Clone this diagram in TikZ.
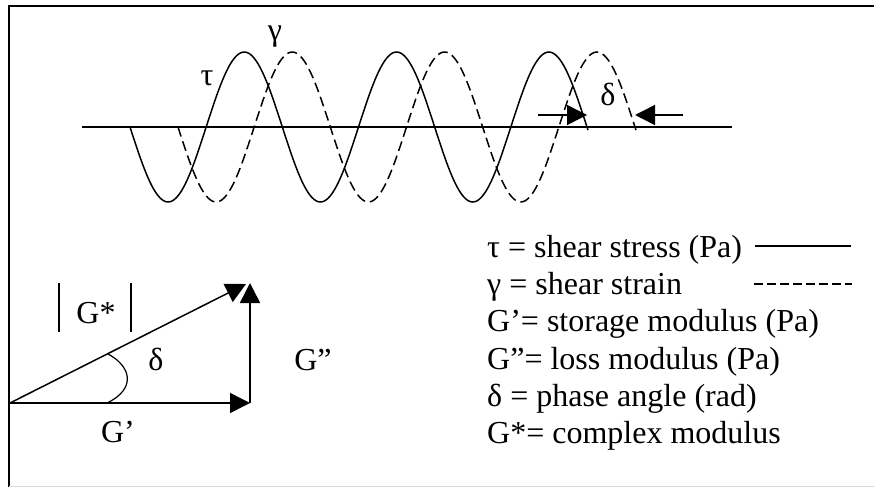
\documentclass[tikz,border=0pt]{standalone}
\usepackage{fontspec}
\setmainfont{Liberation Serif}
\usetikzlibrary{arrows.meta}
\begin{document}
\begin{tikzpicture}[x=1pt,y=-1pt,
  lbl/.style={inner sep=0pt, font=\fontsize{32}{38}\selectfont},
  leg/.style={lbl, anchor=base west},
  wave/.style={line width=1.5pt},
  dwave/.style={wave, dash pattern=on 10pt off 5pt},
  bigarrow/.style={-{Triangle[length=20pt,width=20pt]}, line width=1.5pt},
]
\useasboundingbox (0,0) rectangle (874,487);
% frame
\draw[line width=2pt] (9,487) -- (9,6) -- (874,6);
\draw[black!15, line width=1pt] (9,486) -- (874,486);

% axis
\coordinate (ax1) at (82,127);
\coordinate (ax2) at (732,127);
\draw[line width=1.5pt] (ax1) -- (ax2);

% waves
\draw[wave] plot[domain=130:588, samples=200, smooth] (\x, {127+75*sin(((\x-130)/152.33)*360)});
\draw[dwave] plot[domain=178:636, samples=200, smooth] (\x, {127+75*sin(((\x-178)/152.33)*360)});

\node[lbl] (tau) at (207,78) {τ};
\node[lbl] (gam) at (275,37) {γ};
\node[lbl] (del) at (608,94) {δ};

% delta arrows
\coordinate (d1s) at (538,115);
\coordinate (d1e) at (587,115);
\coordinate (d2s) at (683,115);
\coordinate (d2e) at (635,115);
\draw[bigarrow] (d1s) -- (d1e);
\draw[bigarrow] (d2s) -- (d2e);

% triangle
\coordinate (O) at (10,403);
\coordinate (P) at (250,403);
\coordinate (Q) at (250,283);
\coordinate (H) at (246,284);
\draw[bigarrow] (O) -- (P);
\draw[bigarrow] (P) -- (Q);
\draw[bigarrow] (O) -- (H);
\draw[line width=1.2pt] (107,353.5) .. controls (130,365) and (138,388) .. (107,403);

\coordinate (b1t) at (59,283); \coordinate (b1b) at (59,332);
\coordinate (b2t) at (131,283); \coordinate (b2b) at (131,332);
\draw[line width=1.4pt] (b1t) -- (b1b);
\draw[line width=1.4pt] (b2t) -- (b2b);
\node[lbl, anchor=base] (gstar) at (96,323) {G*};
\node[lbl, anchor=base] (tdel) at (156,370) {δ};
\node[lbl, anchor=base] (gpp) at (313,370) {G”};
\node[lbl, anchor=base] (gp) at (118,442) {G’};

% legend
\node[leg] (l1) at (487,257) {τ = shear stress (Pa)};
\node[leg] (l2) at (487,294) {γ = shear strain};
\node[leg] (l3) at (487,331.5) {G’= storage modulus (Pa)};
\node[leg] (l4) at (487,369) {G”= loss modulus (Pa)};
\node[leg] (l5) at (487,406) {δ = phase angle (rad)};
\node[leg] (l6) at (487,443) {G*= complex modulus};

\coordinate (s1) at (755,246); \coordinate (s2) at (851,246);
\coordinate (t1) at (754,284); \coordinate (t2) at (852,284);
\draw[line width=1.5pt] (s1) -- (s2);
\draw[line width=1.5pt, dash pattern=on 9pt off 4pt] (t1) -- (t2);
\end{tikzpicture}
\end{document}
